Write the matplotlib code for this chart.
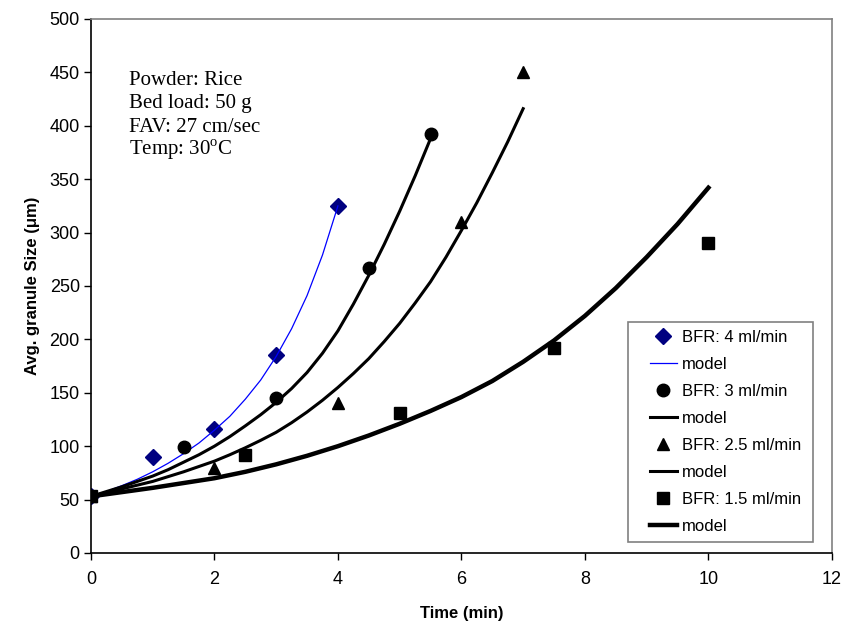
import matplotlib
matplotlib.use("Agg")
import matplotlib.pyplot as plt
from matplotlib.patches import Rectangle

plt.rcParams['font.family'] = ['Liberation Sans', 'DejaVu Sans']

# measured points, BFR in ml/min
t_4 = [0, 1, 2, 3, 4]
d_4 = [53, 90, 116, 185, 325]
t_3 = [0, 1.5, 3, 4.5, 5.5]
d_3 = [53, 99, 145, 267, 392]
t_25 = [0, 2, 4, 6, 7]
d_25 = [53, 80, 140, 310, 450]
t_15 = [0, 2.5, 5, 7.5, 10]
d_15 = [53, 92, 131, 192, 290]

# model curves
mt_4 = [0, 0.25, 0.5, 0.75, 1, 1.25, 1.5, 1.75, 2, 2.25, 2.5, 2.75, 3, 3.25, 3.5, 3.75, 4]
md_4 = [53, 57.5, 63, 69, 76, 84, 93, 103, 115, 128, 144, 162, 184, 210, 241, 279, 325]
mt_3 = [0, 0.25, 0.5, 0.75, 1, 1.25, 1.5, 1.75, 2, 2.25, 2.5, 2.75, 3,
        3.25, 3.5, 3.75, 4, 4.25, 4.5, 4.75, 5, 5.25, 5.5]
md_3 = [53, 57.5, 62, 67, 72, 78, 85, 92, 100, 109, 119, 129.5, 141,
        154, 169, 187, 208, 233, 260, 289, 320, 353, 388]
mt_25 = [0, 0.25, 0.5, 0.75, 1, 1.25, 1.5, 1.75, 2, 2.25, 2.5, 2.75, 3, 3.25, 3.5,
         3.75, 4, 4.25, 4.5, 4.75, 5, 5.25, 5.5, 5.75, 6, 6.25, 6.5, 6.75, 7]
md_25 = [53, 56.5, 60, 63.5, 67, 71.5, 76, 81, 86, 92, 98.5, 105.5, 113, 122, 132,
         143, 155, 168, 182, 198, 215, 234, 254, 277, 302, 328, 356, 385, 416]
mt_15 = [0, 0.5, 1, 1.5, 2, 2.5, 3, 3.5, 4, 4.5, 5, 5.5, 6, 6.5, 7, 7.5, 8, 8.5, 9, 9.5, 10]
md_15 = [53, 57, 61, 65.5, 70, 76, 83, 91, 100, 110, 121, 133, 146, 161, 179, 199, 222, 248,
         277, 308, 342]

labels = ["BFR: 4 ml/min", "model", "BFR: 3 ml/min", "model",
          "BFR: 2.5 ml/min", "model", "BFR: 1.5 ml/min", "model"]
notes = ["Powder: Rice", "Bed load: 50 g", "FAV: 27 cm/sec", "Temp: 30$^\\mathregular{o}$C"]

fig = plt.figure(figsize=(8.42, 6.24), dpi=100)
ax = fig.add_axes([0.108, 0.1138, 0.880, 0.8558])

h = []
h += ax.plot(t_4, d_4, 'D', color='#000080', ms=8, ls='none')
h += ax.plot(mt_4, md_4, '-', color='#0000FF', lw=0.9)
h += ax.plot(t_3, d_3, 'o', color='black', ms=9, ls='none')
h += ax.plot(mt_3, md_3, '-', color='black', lw=2.2)
h += ax.plot(t_25, d_25, '^', color='black', ms=9, ls='none')
h += ax.plot(mt_25, md_25, '-', color='black', lw=2.2)
h += ax.plot(t_15, d_15, 's', color='black', ms=8, ls='none')
h += ax.plot(mt_15, md_15, '-', color='black', lw=3.2)

ax.set_xlim(0, 12)
ax.set_ylim(0, 500)
ax.set_xticks(range(0, 13, 2))
ax.set_yticks(range(0, 501, 50))
ax.tick_params(direction='out', length=5, width=1, labelsize=13, color='black')
ax.tick_params(axis='x', pad=8)
ax.tick_params(axis='y', pad=3)

for s in ['left', 'bottom']:
    ax.spines[s].set_color('black')
    ax.spines[s].set_linewidth(1.2)
for s in ['top', 'right']:
    ax.spines[s].set_color('#808080')
    ax.spines[s].set_linewidth(1.2)

ax.set_xlabel("Time (min)", fontsize=12, fontweight='bold', labelpad=13)
ax.set_ylabel("Avg. granule Size (\u03bcm)", fontsize=12, fontweight='bold', labelpad=7)

# annotation block, one line at a time
note_y = [0.876, 0.833, 0.788, 0.746]
for txt, yy in zip(notes, note_y):
    ax.text(0.0513, yy, txt, transform=ax.transAxes, family='Liberation Serif',
            fontsize=15, va='baseline', ha='left')

# legend box drawn separately so the padding matches
ax.add_patch(Rectangle((0.7247, 0.0206), 0.2497, 0.412, transform=ax.transAxes,
                       facecolor='white', edgecolor='#808080', lw=1.2, zorder=5))
leg = ax.legend(h, labels, loc='upper left', bbox_to_anchor=(0.7544, 0.4176),
                fontsize=12, numpoints=1, frameon=False, borderpad=0,
                borderaxespad=0, labelspacing=0.72, handlelength=1.6,
                handletextpad=0.3)
leg.set_zorder(6)

fig.savefig("out.png", dpi=100)
